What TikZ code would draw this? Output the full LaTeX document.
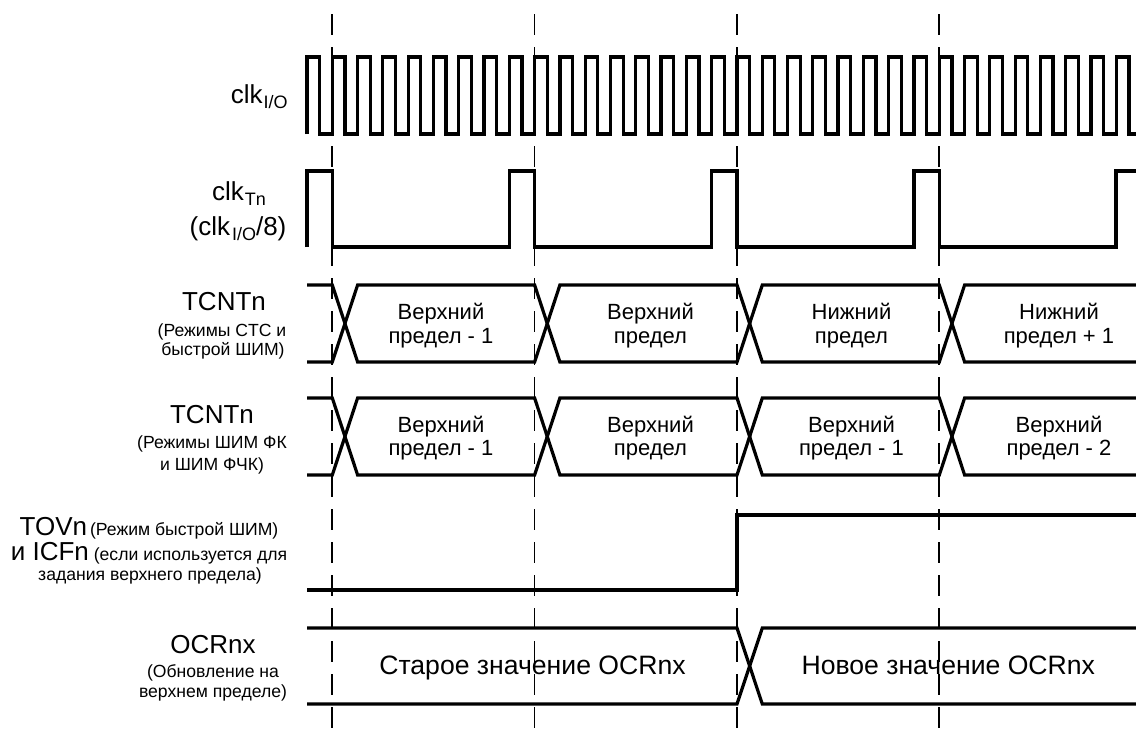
\documentclass[tikz,border=0pt]{standalone}
\usepackage{fontspec}
\setmainfont{Liberation Sans}
\newcommand\Fbig{\fontsize{13}{15}\selectfont}
\newcommand\Fwide{\fontsize{13.3}{15}\selectfont}
\newcommand\Fsmall{\fontsize{8.8}{10}\selectfont}
\newcommand\Fval{\fontsize{11}{12}\selectfont}
\newcommand\Fsub{\fontsize{9}{10}\selectfont}
\newcommand\Sub[1]{\raisebox{-2.5pt}{\Fsub #1}}
\begin{document}
\begin{tikzpicture}[x=0.5pt,y=-0.5pt,
  sig/.style={line width=1.6pt, line join=miter},
  guide/.style={line width=0.85pt, dash pattern=on 10.5pt off 6pt},
  lbl/.style={inner sep=0pt, anchor=base},
]
\useasboundingbox (0,0) rectangle (1136,736);
\clip (0,0) rectangle (1136,736);

% dashed guides
\foreach \d in {332.3,534.6,737.0,939.3} \draw[guide] (\d,14) -- (\d,736);

% clk I/O
\draw[sig] (307,134) \foreach \k in {0,...,32} {-- ++(0,-77) -- ++(12.645,0) -- ++(0,77) -- ++(12.645,0)};

% clk Tn
\draw[sig] (307,247) -- (307,171) -- (332.3,171) -- (332.3,247) -- (509.3,247) -- (509.3,171) -- (534.6,171) -- (534.6,247)
  -- (711.7,247) -- (711.7,171) -- (737,171) -- (737,247) -- (914,247) -- (914,171) -- (939.3,171) -- (939.3,247)
  -- (1116,247) -- (1116,171) -- (1140,171);

% TCNTn row 1
\draw[sig] (307,285) -- (332.3,285) -- (357.6,362) -- (534.6,362) -- (559.9,285) -- (737,285) -- (762.3,362) -- (939.3,362) -- (964.6,285) -- (1140,285);
\draw[sig] (307,362) -- (332.3,362) -- (357.6,285) -- (534.6,285) -- (559.9,362) -- (737,362) -- (762.3,285) -- (939.3,285) -- (964.6,362) -- (1140,362);

% TCNTn row 2
\draw[sig] (307,398) -- (332.3,398) -- (357.6,475) -- (534.6,475) -- (559.9,398) -- (737,398) -- (762.3,475) -- (939.3,475) -- (964.6,398) -- (1140,398);
\draw[sig] (307,475) -- (332.3,475) -- (357.6,398) -- (534.6,398) -- (559.9,475) -- (737,475) -- (762.3,398) -- (939.3,398) -- (964.6,475) -- (1140,475);

% TOVn
\draw[sig] (307,590) -- (737,590) -- (737,515) -- (1140,515);

% OCRnx
\draw[sig] (307,628) -- (737,628) -- (762.3,704) -- (1140,704);
\draw[sig] (307,704) -- (737,704) -- (762.3,628) -- (1140,628);

% left labels
\node[inner sep=0pt, anchor=base east] (lclkio) at (288,103) {\Fbig clk\kern0.5pt\Sub{I/O}};
\node[lbl] (lclktn) at (239,200) {\Fbig clk\kern0.5pt\Sub{Tn}};
\node[lbl] (lclkdiv) at (238,235) {\Fbig (clk\kern1pt\Sub{I/O}/8)};

\node[lbl] (ltc1) at (224,310) {\Fbig TCNTn};
\node[lbl] (ltc1a) at (222,336) {\Fsmall (Режимы CTC и};
\node[lbl] (ltc1b) at (223,355) {\Fsmall быстрой ШИМ)};

\node[lbl] (ltc2) at (212,423) {\Fbig TCNTn};
\node[lbl] (ltc2a) at (212,448) {\Fsmall (Режимы ШИМ ФК};
\node[lbl] (ltc2b) at (212,470) {\Fsmall и ШИМ ФЧК)};

\node[lbl] (ltov) at (149,535) {{\Fbig TOVn}\kern1.5pt{\Fsmall (Режим быстрой ШИМ)}};
\node[lbl] (licf) at (149,560) {{\Fbig и ICFn}{\Fsmall{} (если используется для}};
\node[lbl] (licfb) at (150,580) {\Fsmall задания верхнего предела)};

\node[lbl] (locr) at (213,653) {\Fbig OCRnx};
\node[lbl] (locra) at (213,677) {\Fsmall (Обновление на};
\node[lbl] (locrb) at (213,697) {\Fsmall верхнем пределе)};

% values row 1
\node[lbl] (v11a) at (441,319) {\Fval Верхний};
\node[lbl] (v11b) at (441,343) {\Fval предел - 1};
\node[lbl] (v12a) at (650.5,319) {\Fval Верхний};
\node[lbl] (v12b) at (650.5,343) {\Fval предел};
\node[lbl] (v13a) at (851.5,319) {\Fval Нижний};
\node[lbl] (v13b) at (851.5,343) {\Fval предел};
\node[lbl] (v14a) at (1059,319) {\Fval Нижний};
\node[lbl] (v14b) at (1059,343) {\Fval предел + 1};

% values row 2
\node[lbl] (v21a) at (441,432) {\Fval Верхний};
\node[lbl] (v21b) at (441,455) {\Fval предел - 1};
\node[lbl] (v22a) at (650.5,432) {\Fval Верхний};
\node[lbl] (v22b) at (650.5,455) {\Fval предел};
\node[lbl] (v23a) at (851.5,432) {\Fval Верхний};
\node[lbl] (v23b) at (851.5,455) {\Fval предел - 1};
\node[lbl] (v24a) at (1059,432) {\Fval Верхний};
\node[lbl] (v24b) at (1059,455) {\Fval предел - 2};

% OCR values
\node[lbl] (vold) at (532.5,674) {\Fwide Старое значение OCRnx};
\node[lbl] (vnew) at (948.3,674) {\Fwide Новое значение OCRnx};
\end{tikzpicture}
\end{document}
